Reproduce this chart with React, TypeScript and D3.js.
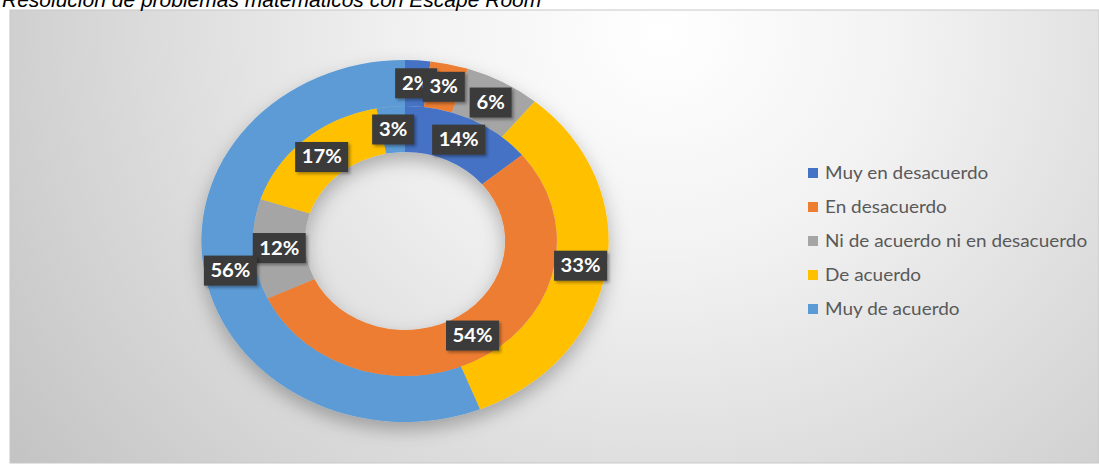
import React from "react";
import * as d3 from "d3";

const title = "Resolución de problemas matemáticos con Escape Room";
const categories = [
  "Muy en desacuerdo",
  "En desacuerdo",
  "Ni de acuerdo ni en desacuerdo",
  "De acuerdo",
  "Muy de acuerdo",
];
const innerValues = [14, 54, 12, 17, 3];
const outerValues = [2, 3, 6, 33, 56];
const colors = ["#4472C4", "#ED7D31", "#A5A5A5", "#FFC000", "#5B9BD5"];

const W = 1099;
const H = 465;
const cx = 405;
const cy = 241;
const sx = 1.125;
const R = 181;
const Rmid = 135;
const Rhole = 89;

export default function App() {
  const pie = d3
    .pie<number>()
    .sort(null)
    .value((d) => d)
    .startAngle(0)
    .endAngle(2 * Math.PI);
  const innerArcs = pie(innerValues);
  const outerArcs = pie(outerValues);
  const arcInner = d3.arc<d3.PieArcDatum<number>>().innerRadius(Rhole).outerRadius(Rmid);
  const arcOuter = d3.arc<d3.PieArcDatum<number>>().innerRadius(Rmid).outerRadius(R);

  const labels = [
    ...innerArcs.map((a) => ({ c: arcInner.centroid(a), v: a.data })),
    ...outerArcs.map((a) => ({ c: arcOuter.centroid(a), v: a.data })),
  ];

  return (
    <svg
      width={W}
      height={H}
      style={{ position: "absolute", left: 0, top: 0, background: "#fff" }}
    >
      <defs>
        <radialGradient id="bg" cx="0.6" cy="0.05" r="0.75" gradientTransform="translate(0.6,0.05) scale(1,2.2) translate(-0.6,-0.05)">
          <stop offset="0" stopColor="#ffffff" />
          <stop offset="0.3" stopColor="#f2f2f2" />
          <stop offset="1" stopColor="#c2c2c2" />
        </radialGradient>
        <filter id="pieShadow" x="-20%" y="-20%" width="140%" height="150%">
          <feDropShadow dx="0" dy="8" stdDeviation="9" floodColor="#000" floodOpacity="0.28" />
        </filter>
        <filter id="boxShadow" x="-20%" y="-20%" width="150%" height="150%">
          <feDropShadow dx="2" dy="2" stdDeviation="1.5" floodColor="#000" floodOpacity="0.35" />
        </filter>
      </defs>
      <rect x={10} y={10} width={W - 10} height={453} fill="url(#bg)" stroke="#c8c8c8" strokeWidth={1} />
      <text
        x={2}
        y={7}
        fontFamily="'Liberation Sans', Arial, sans-serif"
        fontStyle="italic"
        fontSize={21}
        fill="#000"
      >
        {title}
      </text>

      <g transform={`translate(${cx},${cy}) scale(${sx},1)`} filter="url(#pieShadow)">
        {outerArcs.map((a, i) => (
          <path key={"o" + i} d={arcOuter(a) || ""} fill={colors[i]} />
        ))}
        {innerArcs.map((a, i) => (
          <path key={"i" + i} d={arcInner(a) || ""} fill={colors[i]} />
        ))}
      </g>

      {labels.map((l, i) => {
        const t = `${l.v}%`;
        const w = 11 * t.length + 20;
        const h = 30;
        const x = cx + l.c[0] * sx;
        const y = cy + l.c[1];
        return (
          <g key={"l" + i} transform={`translate(${x},${y})`}>
            <rect x={-w / 2} y={-h / 2} width={w} height={h} fill="#3b3b3b" filter="url(#boxShadow)" />
            <text
              x={0}
              y={6.5}
              textAnchor="middle"
              transform={`scale(${sx},1)`}
              fontFamily="Lato, 'Open Sans', sans-serif"
              fontWeight="bold"
              fontSize={18}
              fill="#ffffff"
            >
              {t}
            </text>
          </g>
        );
      })}

      {categories.map((c, i) => {
        const y = 173 + i * 34;
        return (
          <g key={"lg" + i}>
            <rect x={808} y={y - 5} width={10} height={10} fill={colors[i]} />
            <g transform={`translate(825,${y + 6}) scale(1.115,1)`}>
              <text
                x={0}
                y={0}
                fontFamily="Lato, 'Open Sans', sans-serif"
                fontSize={17}
                fill="#595959"
              >
                {c}
              </text>
            </g>
          </g>
        );
      })}
    </svg>
  );
}
